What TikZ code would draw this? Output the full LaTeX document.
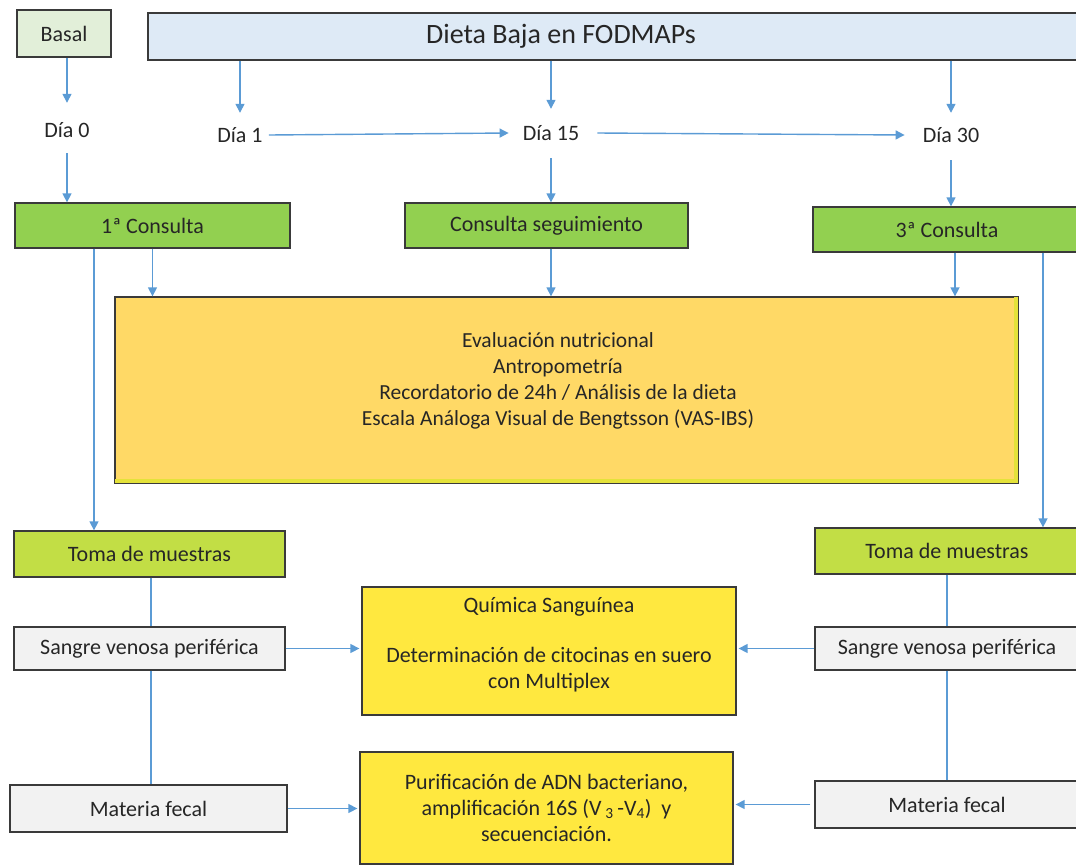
\documentclass[tikz,border=0pt]{standalone}
\usepackage{fontspec}
\setmainfont{Carlito}
\usetikzlibrary{arrows.meta,calc}
\definecolor{arrc}{HTML}{5B9BD5}
\definecolor{edgec}{HTML}{3A3A3A}
\definecolor{basalc}{HTML}{E2EFD9}
\definecolor{dietac}{HTML}{DEEAF6}
\definecolor{consc}{HTML}{92D050}
\definecolor{tomac}{HTML}{C2DE45}
\definecolor{grayc}{HTML}{F2F2F2}
\definecolor{evalc}{HTML}{FFD966}
\definecolor{yelc}{HTML}{FFE83F}
\definecolor{stripec}{HTML}{E4E23A}
\tikzset{
  txt/.style={text=black!85, font=\fontsize{22}{26}\selectfont},
  box/.style={draw=edgec, line width=1.3pt, rectangle, inner sep=0pt, align=center, txt},
  daynode/.style={inner xsep=6pt, inner ysep=0pt, minimum height=50pt, txt},
  arr/.style={draw=arrc, line width=1.4pt, -{Triangle[length=9pt,width=9pt]}},
  ln/.style={draw=arrc, line width=1.4pt},
}
\begin{document}
\begin{tikzpicture}[x=1pt,y=-1pt]
\useasboundingbox (0,0) rectangle (1076,865);
% top boxes
\node[box, fill=basalc, minimum width=94pt, minimum height=47pt] (basal) at (64,33.5) {Basal};
\node[box, fill=dietac, minimum width=932pt, minimum height=47pt] (dieta) at (614,36.5) {};
\node[text=black!85, font=\fontsize{28}{32}\selectfont] (dietat) at (561,36.5) {Dieta Baja en FODMAPs};
% days
\node[daynode] (d0) at (67,130) {Día 0};
\node[daynode] (d1) at (240,135) {Día 1};
\node[daynode] (d15) at (551,133) {Día 15};
\node[daynode] (d30) at (951,135) {Día 30};
% consultations
\node[box, fill=consc, minimum width=275pt, minimum height=45pt] (c1) at (152.5,225.5) {1ª Consulta};
\node[box, fill=consc, minimum width=283pt, minimum height=45pt] (cs) at (546.5,225.5) {Consulta seguimiento};
\node[box, fill=consc, minimum width=267pt, minimum height=45pt] (c3) at (946.5,229.5) {};
\node[txt] (c3t) at (947,229.5) {3ª Consulta};
% evaluation box
\node[box, fill=evalc, minimum width=903pt, minimum height=186pt] (ev) at (566.5,390) {};
\fill[stripec] ($(ev.south west)+(1,-5)$) rectangle ($(ev.south east)+(-1,-1)$);
\fill[stripec] ($(ev.north east)+(-5,1)$) rectangle ($(ev.south east)+(-1,-1)$);
\draw[edgec, line width=1.3pt] (ev.south west) rectangle (ev.north east);
\node[align=center, text=black!85, font=\fontsize{21.5}{26}\selectfont] (evt) at (558,381) {Evaluación nutricional\\Antropometría\\Recordatorio de 24h / Análisis de la dieta\\Escala Análoga Visual de Bengtsson (VAS-IBS)};
% samples left
\node[box, fill=tomac, minimum width=271pt, minimum height=46pt] (t1) at (149.5,554) {Toma de muestras};
\node[box, fill=grayc, minimum width=271pt, minimum height=43pt] (s1) at (149.5,648.5) {Sangre venosa periférica};
\node[box, fill=grayc, minimum width=277pt, minimum height=47pt] (m1) at (148.5,808.5) {Materia fecal};
% samples right
\node[box, fill=tomac, minimum width=265pt, minimum height=46pt] (t2) at (947.5,551) {};
\node[txt] (t2t) at (947,551) {Toma de muestras};
\node[box, fill=grayc, minimum width=265pt, minimum height=43pt] (s2) at (947.5,648.5) {};
\node[txt] (s2t) at (947,648.5) {Sangre venosa periférica};
\node[box, fill=grayc, minimum width=265pt, minimum height=47pt] (m2) at (947.5,804.5) {};
\node[txt] (m2t) at (947,804.5) {Materia fecal};
% center yellow boxes
\node[box, fill=yelc, minimum width=374pt, minimum height=128pt] (q) at (549,651) {};
\node[align=center, txt] (qt) at (549,645) {Química Sanguínea\\[24pt]Determinación de citocinas en suero\\con Multiplex};
\node[box, fill=yelc, minimum width=373pt, minimum height=112pt] (p) at (546.5,808) {Purificación de ADN bacteriano,\\amplificación 16S (V\,\textsubscript{3}\,-V\textsubscript{4})~~y\\secuenciación.};
% coordinates for vertical lines
\coordinate (xl) at (94,0);
\coordinate (xr) at (1043,0);
\coordinate (xe3) at (955,0);
\coordinate (xs1) at (151,0);
\coordinate (xs2) at (947,0);
% arrows top
\draw[arr] (basal.south -| d0.north) -- ([yshift=2pt]d0.north);
\draw[arr] (dieta.south -| d1.north) -- ([yshift=-3pt]d1.north);
\draw[arr] (dieta.south -| d15.north) -- ([yshift=-1pt]d15.north);
\draw[arr] (dieta.south -| d30.north) -- ([yshift=-3pt]d30.north);
\draw[arr] (d1.east) -- ([xshift=-8pt]d15.west);
\draw[arr] ([xshift=12pt]d15.east) -- ([xshift=-12pt]d30.west);
\draw[arr] ([yshift=2pt]d0.south) -- (d0.south |- c1.north);
\draw[arr] (d15.south) -- (d15.south |- cs.north);
\draw[arr] (d30.south) -- (d30.south |- c3.north);
% to evaluation
\draw[arr] (c1.south) -- (c1.south |- ev.north);
\draw[arr] (cs.south -| d15) -- (d15 |- ev.north);
\draw[arr] (c3.south -| xe3) -- (xe3 |- ev.north);
% to sampling
\draw[arr] (c1.south -| xl) -- (t1.north -| xl);
\draw[arr] (c3.south -| xr) -- (t2.north -| xr);
% sample lines
\draw[ln] (t1.south -| xs1) -- (s1.north -| xs1);
\draw[ln] (s1.south -| xs1) -- (m1.north -| xs1);
\draw[ln] (t2.south -| xs2) -- (s2.north -| xs2);
\draw[ln] (s2.south -| xs2) -- (m2.north -| xs2);
% to labs
\draw[arr] (s1.east) -- ([xshift=-2pt]q.west |- s1.east);
\draw[arr] (s2.west) -- ([xshift=2pt]q.east |- s2.west);
\draw[arr] (m1.east) -- ([xshift=-2pt]p.west |- m1.east);
\draw[arr] ([xshift=-4pt]m2.west) -- ([xshift=2pt]p.east |- m2.west);
\end{tikzpicture}
\end{document}
